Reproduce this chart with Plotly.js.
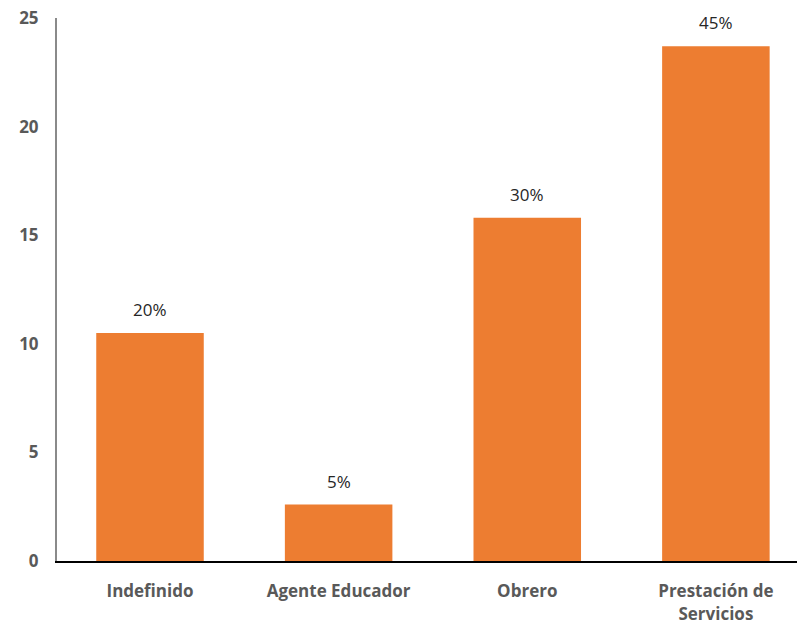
<!DOCTYPE html>
<html>
<head>
<meta charset="utf-8">
<script src="https://cdn.plot.ly/plotly-3.0.1.min.js"></script>
<style>html,body{margin:0;padding:0;background:#fff;}#chart{width:798px;height:630px;}</style>
</head>
<body>
<div id="chart"></div>
<script>
const categories = ["Indefinido", "Agente Educador", "Obrero", "Prestación de<br>Servicios"];
const values = [10.5, 2.6, 15.8, 23.7];
const labels = ["20%", "5%", "30%", "45%"];
const yTicks = [0, 5, 10, 15, 20, 25];

const trace = {
  type: "bar",
  x: categories,
  y: values,
  width: 0.57,
  marker: {color: "#ED7D31"},
  hoverinfo: "none"
};

const annotations = categories.map((c, i) => ({
  x: c, y: values[i], text: labels[i], showarrow: false,
  yanchor: "bottom", yshift: 10,
  font: {family: "Open Sans, Liberation Sans, sans-serif", size: 17, color: "#262626"}
}));

const layout = {
  width: 798, height: 630,
  margin: {l: 57, r: 1, t: 18, b: 69},
  paper_bgcolor: "#fff", plot_bgcolor: "#fff",
  showlegend: false,
  xaxis: {
    type: "category",
    range: [-0.493, 3.43],
    showline: true, linecolor: "#000", linewidth: 2,
    showgrid: false, zeroline: false, ticks: "",
    ticklabelstandoff: 14,
    tickfont: {family: "Open Sans, Liberation Sans, sans-serif", size: 17, color: "#595959", weight: "bold"},
    fixedrange: true
  },
  yaxis: {
    range: [0, 25],
    tickvals: yTicks,
    showline: true, linecolor: "#8a8a8a", linewidth: 2,
    showgrid: false, zeroline: false, ticks: "",
    ticklabelstandoff: 13,
    tickfont: {family: "Open Sans, Liberation Sans, sans-serif", size: 17, color: "#595959", weight: "bold"},
    fixedrange: true
  },
  annotations: annotations
};

Plotly.newPlot("chart", [trace], layout, {displayModeBar: false, staticPlot: true});
</script>
</body>
</html>
